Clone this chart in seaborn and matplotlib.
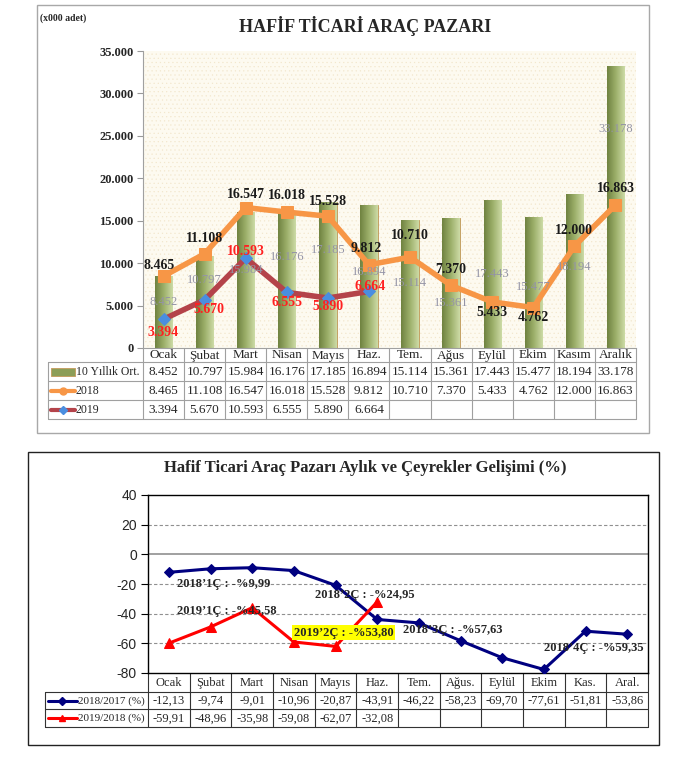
import numpy as np
import matplotlib
matplotlib.use("Agg")
import matplotlib.pyplot as plt
from matplotlib.patches import Rectangle
from matplotlib.colors import LinearSegmentedColormap
import seaborn as sns

# --- data: light commercial vehicle market (x000 adet) ---
months_top = ["Ocak", "Şubat", "Mart", "Nisan", "Mayıs", "Haz.", "Tem.", "Ağus",
              "Eylül", "Ekim", "Kasım", "Aralık"]
avg_10y = [8452, 10797, 15984, 16176, 17185, 16894, 15114, 15361, 17443, 15477, 18194, 33178]
sales_2018 = [8465, 11108, 16547, 16018, 15528, 9812, 10710, 7370, 5433, 4762, 12000, 16863]
sales_2019 = [3394, 5670, 10593, 6555, 5890, 6664]

# --- data: monthly / quarterly change (%) ---
months_bot = ["Ocak", "Şubat", "Mart", "Nisan", "Mayıs", "Haz.", "Tem.", "Ağus.",
              "Eylül", "Ekim", "Kas.", "Aral."]
chg_18_17 = [-12.13, -9.74, -9.01, -10.96, -20.87, -43.91, -46.22, -58.23, -69.70, -77.61, -51.81, -53.86]
chg_19_18 = [-59.91, -48.96, -35.98, -59.08, -62.07, -32.08]
quarter_names = ["2018’1Ç", "2019’1Ç", "2018’2Ç", "2019’2Ç", "2018’3Ç", "2018’4Ç"]
quarter_chg = [-9.99, -45.58, -24.95, -53.80, -57.63, -59.35]

# label layout (hand placed like in the excel original), offsets in pixels
bar_lbl_at = [5400, 8000, 9200, 10700, 11550, 8960, 7660, 5300, 8700, 7200, 9600, 25800]
off_2018 = [(-4, 11), (0, 15), (0, 13), (0, 17), (0, 15), (-3, 16), (0, 22), (0, 16),
            (0, -11), (0, -10), (0, 16), (0, 16)]
off_2019 = [(0, -13), (4, -10), (0, 7), (0, -10), (0, -8), (1, 5)]
quarter_pos = [(0.2, -20), (0.2, -38), (3.5, -27.5), (3.0, -52.7), (5.63, -50.7), (9.0, -63.3)]


def tr_int(v):
    return f"{v:,}".replace(",", ".")


def tr_dec(v):
    return f"{v:.2f}".replace(".", ",")


sns.set_style("white")
plt.rcParams["font.family"] = ["Liberation Serif", "DejaVu Serif"]
plt.rcParams["hatch.linewidth"] = 0.35

W, H = 685, 760
PX = 0.72  # points per pixel at dpi 100
fig = plt.figure(figsize=(W / 100, H / 100), dpi=100)

# overlay in pixel coords for frames and data tables
ov = fig.add_axes([0, 0, 1, 1], zorder=0)
ov.set_xlim(0, W)
ov.set_ylim(H, 0)
ov.axis("off")
ov.patch.set_alpha(0)

# ================= top chart =================
ORANGE = "#f79646"
DARKRED = "#b4434a"
BLUE = "#4a8ee0"

ax1 = fig.add_axes([143 / W, 1 - 348 / H, (636 - 143) / W, (348 - 51) / H], zorder=1)
ax1.set_facecolor("#fdfaf0")
ax1.add_patch(Rectangle((0, 0), 1, 1, transform=ax1.transAxes, facecolor="none",
                        hatch="....", edgecolor="#f2e6cc", lw=0, zorder=0))

sns.barplot(x=months_top, y=avg_10y, ax=ax1, color="#9db06b", width=0.42,
            edgecolor="#c49a5a", linewidth=0.6, saturation=1, zorder=2)

# cylinder-ish shading on the bars
bar_cmap = LinearSegmentedColormap.from_list("bar", ["#6f8240", "#9db06b", "#cddba6"])
grad = np.linspace(0, 1, 64).reshape(1, -1)
for bar in ax1.containers[0]:
    x0, y0 = bar.get_xy()
    im = ax1.imshow(grad, cmap=bar_cmap, extent=[x0, x0 + bar.get_width(), y0, y0 + bar.get_height()],
                    aspect="auto", origin="lower", zorder=2.5)
    im.set_clip_path(bar)

idx = np.arange(12)
sns.lineplot(x=idx, y=sales_2018, ax=ax1, color=ORANGE, lw=4, marker="s", markersize=8,
             markeredgecolor=ORANGE, zorder=4)
sns.lineplot(x=idx[:6], y=sales_2019, ax=ax1, color=DARKRED, lw=4, marker="D", markersize=6,
             markerfacecolor=BLUE, markeredgecolor=BLUE, zorder=5)

ax1.set_xlim(-0.5, 11.5)
ax1.set_ylim(0, 35000)
ax1.set_xticks([])
ax1.set_xlabel("")
ax1.set_yticks(range(0, 35001, 5000))
ax1.set_yticklabels([tr_int(v) for v in range(0, 35001, 5000)], fontweight="bold", fontsize=9)
ax1.tick_params(axis="y", length=4, color="#999999", pad=3, left=True)
for s in ["top", "right"]:
    ax1.spines[s].set_visible(False)
for s in ["left", "bottom"]:
    ax1.spines[s].set_color("#a0a0a0")
    ax1.spines[s].set_linewidth(0.8)

for i, v in enumerate(avg_10y):
    ax1.text(i, bar_lbl_at[i], tr_int(v), ha="center", va="center", color="#9494a6",
             fontsize=9, zorder=6)
for i, v in enumerate(sales_2018):
    dx, dy = off_2018[i]
    ax1.annotate(tr_int(v), (i, v), xytext=(dx * PX, dy * PX), textcoords="offset points",
                 ha="center", va="center", fontweight="bold",
                 fontsize=10, color="#1a1a1a", zorder=7)
for i, v in enumerate(sales_2019):
    dx, dy = off_2019[i]
    ax1.annotate(tr_int(v), (i, v), xytext=(dx * PX, dy * PX), textcoords="offset points",
                 ha="center", va="center", fontweight="bold",
                 fontsize=10, color="#ff2020", zorder=7)

ov.add_patch(Rectangle((37, 5), 612, 428, fill=False, ec="#a8a8a8", lw=1))
ov.text(365, 26, "HAFİF TİCARİ ARAÇ PAZARI", ha="center", va="center",
        fontsize=13, fontweight="bold")
ov.text(40, 18, "(x000 adet)", ha="left", va="center", fontsize=7, fontweight="bold")

# data table under the top chart
xs = np.linspace(143, 636, 13)
ys = [348, 362, 381, 400, 419]
tc = "#a0a0a0"
for x in xs:
    ov.plot([x, x], [ys[0], ys[-1]], color=tc, lw=0.8)
for y in ys[1:]:
    ov.plot([48, 636], [y, y], color=tc, lw=0.8)
ov.plot([48, 48], [ys[1], ys[-1]], color=tc, lw=0.8)
cx = (xs[:-1] + xs[1:]) / 2
for i, m in enumerate(months_top):
    ov.text(cx[i], (ys[0] + ys[1]) / 2 + 0.5, m, ha="center", va="center", fontsize=9.5)
for r, row in enumerate([avg_10y, sales_2018, sales_2019]):
    yc = (ys[r + 1] + ys[r + 2]) / 2 + 0.5
    for i, v in enumerate(row):
        ov.text(cx[i], yc, tr_int(v), ha="center", va="center", fontsize=9.5)
key_y = [(ys[i] + ys[i + 1]) / 2 for i in range(1, 4)]
ov.add_patch(Rectangle((51, key_y[0] - 4), 24, 8, facecolor="#8c9e58", edgecolor="#c49a5a", lw=0.6))
ov.plot([51, 75], [key_y[1]] * 2, color=ORANGE, lw=3)
ov.plot([63], [key_y[1]], marker="o", color=ORANGE, markersize=5)
ov.plot([51, 75], [key_y[2]] * 2, color=DARKRED, lw=3)
ov.plot([63], [key_y[2]], marker="D", color=BLUE, markersize=4)
for k, name in enumerate(["10 Yıllık Ort.", "2018", "2019"]):
    ov.text(76, key_y[k] + 0.5, name, ha="left", va="center", fontsize=8.5)

# ================= bottom chart =================
NAVY = "#000080"
RED = "#ff0000"

ov.add_patch(Rectangle((28, 452), 631, 293, fill=False, ec="#222222", lw=1))
ov.text(365, 468, "Hafif Ticari Araç Pazarı Aylık ve Çeyrekler Gelişimi (%)",
        ha="center", va="center", fontsize=12, fontweight="bold")

ax2 = fig.add_axes([148 / W, 1 - 673 / H, 500 / W, 178 / H], zorder=1)
for yv in [20, -20, -40, -60]:
    ax2.axhline(yv, color="#909090", lw=0.8, ls=(0, (3, 2)), zorder=1)
ax2.axhline(0, color="#909090", lw=1.2, zorder=1)

sns.lineplot(x=idx, y=chg_18_17, ax=ax2, color=NAVY, lw=2.2, marker="D", markersize=5,
             markeredgecolor=NAVY, zorder=4)
sns.lineplot(x=idx[:6], y=chg_19_18, ax=ax2, color=RED, lw=2.2, marker="^", markersize=7,
             markeredgecolor=RED, zorder=4)

for (qx, qy), name, v in zip(quarter_pos, quarter_names, quarter_chg):
    bb = dict(facecolor="#ffff00", edgecolor="none", pad=1) if name == "2019’2Ç" else None
    ax2.text(qx, qy, f"{name} : -%{tr_dec(abs(v))}", ha="left", va="center",
             fontweight="bold", fontsize=9, zorder=5, bbox=bb)

ax2.set_xlim(-0.5, 11.5)
ax2.set_ylim(-80, 40)
ax2.set_xticks([])
ax2.set_xlabel("")
ax2.set_yticks(range(-80, 41, 20))
ax2.set_yticklabels([str(v) for v in range(-80, 41, 20)], fontsize=10,
                    family=["Liberation Sans", "DejaVu Sans"])
ax2.tick_params(axis="y", length=5, color="black", left=True, pad=3)
for s in ax2.spines.values():
    s.set_color("black")
    s.set_linewidth(1)

# data table under the bottom chart
xs2 = np.linspace(148, 648, 13)
ys2 = [673, 692, 709, 727]
tc2 = "#333333"
for x in xs2:
    ov.plot([x, x], [ys2[0], ys2[-1]], color=tc2, lw=0.8)
for y in ys2[1:]:
    ov.plot([45, 648], [y, y], color=tc2, lw=0.8)
ov.plot([45, 45], [ys2[1], ys2[-1]], color=tc2, lw=0.8)
cx2 = (xs2[:-1] + xs2[1:]) / 2
for i, m in enumerate(months_bot):
    ov.text(cx2[i], (ys2[0] + ys2[1]) / 2 + 0.5, m, ha="center", va="center", fontsize=9)
for r, row in enumerate([chg_18_17, chg_19_18]):
    yc = (ys2[r + 1] + ys2[r + 2]) / 2 + 0.5
    for i, v in enumerate(row):
        ov.text(cx2[i], yc, tr_dec(v), ha="center", va="center", fontsize=9)
key2_y = [(ys2[i] + ys2[i + 1]) / 2 for i in range(1, 3)]
ov.plot([48, 77], [key2_y[0]] * 2, color=NAVY, lw=2.2)
ov.plot([62], [key2_y[0]], marker="D", color=NAVY, markersize=4)
ov.plot([48, 77], [key2_y[1]] * 2, color=RED, lw=2.2)
ov.plot([62], [key2_y[1]], marker="^", color=RED, markersize=5)
for k, name in enumerate(["2018/2017 (%)", "2019/2018 (%)"]):
    ov.text(78, key2_y[k] + 0.5, name, ha="left", va="center", fontsize=8)

fig.savefig("out.png", dpi=100)
